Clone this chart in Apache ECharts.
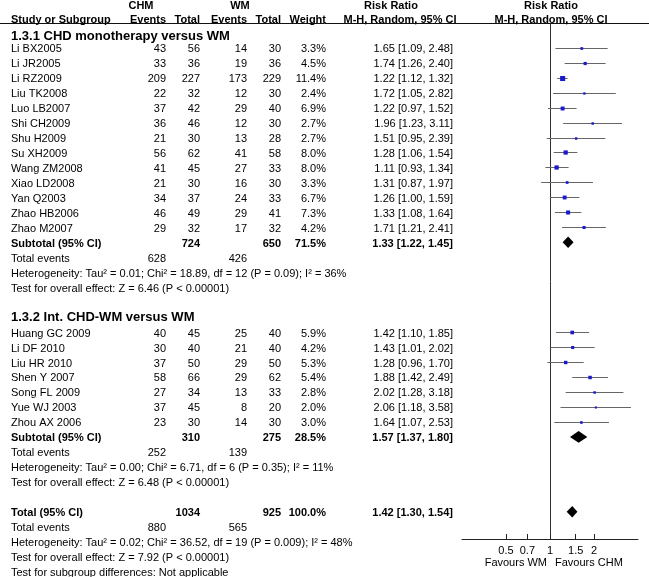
<!DOCTYPE html>
<html><head><meta charset="utf-8">
<script src="https://cdn.jsdelivr.net/npm/echarts@6/dist/echarts.min.js"></script>
<style>html,body{margin:0;padding:0;background:#fff}#c{width:649px;height:577px}</style>
</head><body><div id="c"></div>
<script>
// ---------- DATA ----------
const g1Title = '1.3.1 CHD monotherapy versus WM';
const g1Studies = ['Li BX2005','Li JR2005','Li RZ2009','Liu TK2008','Luo LB2007','Shi CH2009','Shu H2009','Su XH2009','Wang ZM2008','Xiao LD2008','Yan Q2003','Zhao HB2006','Zhao M2007'];
const g1ChmEvents = [43,33,209,22,37,36,21,56,41,21,34,46,29];
const g1ChmTotal  = [56,36,227,32,42,46,30,62,45,30,37,49,32];
const g1WmEvents  = [14,19,173,12,29,12,13,41,27,16,24,29,17];
const g1WmTotal   = [30,36,229,30,40,30,28,58,33,30,33,41,32];
const g1Weight    = [3.3,4.5,11.4,2.4,6.9,2.7,2.7,8.0,8.0,3.3,6.7,7.3,4.2];
const g1RR        = [1.65,1.74,1.22,1.72,1.22,1.96,1.51,1.28,1.11,1.31,1.26,1.33,1.71];
const g1Lo        = [1.09,1.26,1.12,1.05,0.97,1.23,0.95,1.06,0.93,0.87,1.00,1.08,1.21];
const g1Hi        = [2.48,2.40,1.32,2.82,1.52,3.11,2.39,1.54,1.34,1.97,1.59,1.64,2.41];
const g1Sub = {chmTotal:724, wmTotal:650, weight:71.5, rr:1.33, lo:1.22, hi:1.45, chmEvents:628, wmEvents:426};
const g1Het = 'Heterogeneity: Tau² = 0.01; Chi² = 18.89, df = 12 (P = 0.09); I² = 36%';
const g1Test = 'Test for overall effect: Z = 6.46 (P < 0.00001)';

const g2Title = '1.3.2 Int. CHD-WM versus WM';
const g2Studies = ['Huang GC 2009','Li DF 2010','Liu HR 2010','Shen Y 2007','Song FL 2009','Yue WJ 2003','Zhou AX 2006'];
const g2ChmEvents = [40,30,37,58,27,37,23];
const g2ChmTotal  = [45,40,50,66,34,45,30];
const g2WmEvents  = [25,21,29,29,13,8,14];
const g2WmTotal   = [40,40,50,62,33,20,30];
const g2Weight    = [5.9,4.2,5.3,5.4,2.8,2.0,3.0];
const g2RR        = [1.42,1.43,1.28,1.88,2.02,2.06,1.64];
const g2Lo        = [1.10,1.01,0.96,1.42,1.28,1.18,1.07];
const g2Hi        = [1.85,2.02,1.70,2.49,3.18,3.58,2.53];
const g2Sub = {chmTotal:310, wmTotal:275, weight:28.5, rr:1.57, lo:1.37, hi:1.80, chmEvents:252, wmEvents:139};
const g2Het = 'Heterogeneity: Tau² = 0.00; Chi² = 6.71, df = 6 (P = 0.35); I² = 11%';
const g2Test = 'Test for overall effect: Z = 6.48 (P < 0.00001)';

const totAll = {chmTotal:1034, wmTotal:925, weight:100.0, rr:1.42, lo:1.30, hi:1.54, chmEvents:880, wmEvents:565};
const totHet = 'Heterogeneity: Tau² = 0.02; Chi² = 36.52, df = 19 (P = 0.009); I² = 48%';
const totTest = 'Test for overall effect: Z = 7.92 (P < 0.00001)';
const totSubgroup = 'Test for subgroup differences: Not applicable';

const tickLabels = [0.5, 0.7, 1, 1.5, 2];
const axisMin = 0.25, axisMax = 4;

// ---------- LAYOUT ----------
const W = 649, H = 577;
const ROW0 = 47.7, ROWH = 14.97;
const FONT = '"Liberation Sans", Arial, Helvetica, sans-serif';
const col = {name:11, chmE:166, chmT:200, wmE:247, wmT:281, wt:326, rr:453};
const fx = v => v.toFixed(2);
const ci = (r,l,h) => fx(r) + ' [' + fx(l) + ', ' + fx(h) + ']';

const cells = [];
function cell(x, row, t, a, b, s) { cells.push({x, row, t: String(t), a: a || 'right', b: !!b, s: s || 11}); }

// headers
cell(141, -2.86, 'CHM', 'center', true);
cell(240, -2.86, 'WM', 'center', true);
cell(391, -2.86, 'Risk Ratio', 'center', true);
cell(551, -2.86, 'Risk Ratio', 'center', true);
cell(col.name, -1.97, 'Study or Subgroup', 'left', true);
cell(col.chmE, -1.97, 'Events', 'right', true);
cell(col.chmT, -1.97, 'Total', 'right', true);
cell(col.wmE, -1.97, 'Events', 'right', true);
cell(col.wmT, -1.97, 'Total', 'right', true);
cell(col.wt, -1.97, 'Weight', 'right', true);
cell(400, -1.97, 'M-H, Random, 95% CI', 'center', true);
cell(551, -1.97, 'M-H, Random, 95% CI', 'center', true);

const forestData = [];
const diamondData = [];

function addGroup(startRow, titleRow, title, studies, ce, ct, we, wt, w, rr, lo, hi, sub, het, test) {
  cell(col.name, titleRow, title, 'left', true, 13);
  studies.forEach((s, i) => {
    const r = startRow + i;
    cell(col.name, r, s, 'left');
    cell(col.chmE, r, ce[i]); cell(col.chmT, r, ct[i]);
    cell(col.wmE, r, we[i]); cell(col.wmT, r, wt[i]);
    cell(col.wt, r, w[i].toFixed(1) + '%');
    cell(col.rr, r, ci(rr[i], lo[i], hi[i]));
    forestData.push([Math.log10(rr[i]), r, Math.log10(lo[i]), Math.log10(hi[i]), w[i]]);
  });
  let r = startRow + studies.length;
  cell(col.name, r, 'Subtotal (95% CI)', 'left', true);
  cell(col.chmT, r, sub.chmTotal, 'right', true);
  cell(col.wmT, r, sub.wmTotal, 'right', true);
  cell(col.wt, r, sub.weight.toFixed(1) + '%', 'right', true);
  cell(col.rr, r, ci(sub.rr, sub.lo, sub.hi), 'right', true);
  diamondData.push([Math.log10(sub.rr), r, Math.log10(sub.lo), Math.log10(sub.hi)]);
  cell(col.name, r + 1, 'Total events', 'left');
  cell(col.chmE, r + 1, sub.chmEvents); cell(col.wmE, r + 1, sub.wmEvents);
  cell(col.name, r + 2, het, 'left');
  cell(col.name, r + 3, test, 'left');
}
addGroup(0, -0.85, g1Title, g1Studies, g1ChmEvents, g1ChmTotal, g1WmEvents, g1WmTotal, g1Weight, g1RR, g1Lo, g1Hi, g1Sub, g1Het, g1Test);
addGroup(19, 17.9, g2Title, g2Studies, g2ChmEvents, g2ChmTotal, g2WmEvents, g2WmTotal, g2Weight, g2RR, g2Lo, g2Hi, g2Sub, g2Het, g2Test);

// overall
const tr = 31;
cell(col.name, tr, 'Total (95% CI)', 'left', true);
cell(col.chmT, tr, totAll.chmTotal, 'right', true);
cell(col.wmT, tr, totAll.wmTotal, 'right', true);
cell(col.wt, tr, totAll.weight.toFixed(1) + '%', 'right', true);
cell(col.rr, tr, ci(totAll.rr, totAll.lo, totAll.hi), 'right', true);
diamondData.push([Math.log10(totAll.rr), tr, Math.log10(totAll.lo), Math.log10(totAll.hi)]);
cell(col.name, tr + 1, 'Total events', 'left');
cell(col.chmE, tr + 1, totAll.chmEvents); cell(col.wmE, tr + 1, totAll.wmEvents);
cell(col.name, tr + 2, totHet, 'left');
cell(col.name, tr + 3, totTest, 'left');
cell(col.name, tr + 4, totSubgroup, 'left');

// grids
const FTOP = 24, FBOT = 539;
const tYmin = -ROW0 / ROWH, tYmax = (H - ROW0) / ROWH;
const fYmin = (FTOP - ROW0) / ROWH, fYmax = (FBOT - ROW0) / ROWH;

const chart = echarts.init(document.getElementById('c'), null, {renderer: 'canvas'});
chart.setOption({
  animation: false,
  backgroundColor: '#fff',
  textStyle: {fontFamily: FONT},
  grid: [
    {left: 0, right: 0, top: 0, bottom: 0, outerBoundsMode: 'none'},
    {left: 462, right: W - 638, top: FTOP, bottom: H - FBOT, outerBoundsMode: 'none'}
  ],
  xAxis: [
    {gridIndex: 0, type: 'value', min: 0, max: W, show: false},
    {gridIndex: 1, type: 'value', min: Math.log10(axisMin), max: Math.log10(axisMax),
     axisLine: {show: true, onZero: false, lineStyle: {color: '#222', width: 1}},
     axisTick: {show: true, inside: true, length: 5, customValues: tickLabels.map(Math.log10), lineStyle: {color: '#222'}},
     axisLabel: {show: true, customValues: tickLabels.map(Math.log10), margin: 6, fontSize: 11, color: '#000', fontFamily: FONT,
       formatter: v => String(+Math.pow(10, v).toPrecision(2))},
     splitLine: {show: false}}
  ],
  yAxis: [
    {gridIndex: 0, type: 'value', min: tYmin, max: tYmax, inverse: true, show: false},
    {gridIndex: 1, type: 'value', min: fYmin, max: fYmax, inverse: true,
     axisLine: {show: true, onZero: true, lineStyle: {color: '#333', width: 1}},
     axisTick: {show: false}, axisLabel: {show: false}, splitLine: {show: false}}
  ],
  graphic: [
    {type: 'line', shape: {x1: 0, y1: 23.5, x2: W, y2: 23.5}, style: {stroke: '#111', lineWidth: 1}, silent: true},
    {type: 'text', x: 547, y: 563, style: {text: 'Favours WM', font: '11px ' + FONT, fill: '#000', align: 'right', verticalAlign: 'middle', textAlign: 'right', textVerticalAlign: 'middle'}},
    {type: 'text', x: 555, y: 563, style: {text: 'Favours CHM', font: '11px ' + FONT, fill: '#000', align: 'left', verticalAlign: 'middle', textAlign: 'left', textVerticalAlign: 'middle'}}
  ],
  series: [
    {
      type: 'custom', xAxisIndex: 0, yAxisIndex: 0, clip: false, silent: true,
      data: cells.map((c, i) => [c.x, c.row, i]),
      renderItem: (params, api) => {
        const c = cells[api.value(2)];
        const p = api.coord([api.value(0), api.value(1)]);
        return {type: 'text', x: p[0], y: p[1] + 1.4,
          style: {text: c.t, fill: '#000', font: (c.b ? 'bold ' : '') + c.s + 'px ' + FONT,
            align: c.a, textAlign: c.a, verticalAlign: 'middle', textVerticalAlign: 'middle'}};
      }
    },
    {
      type: 'custom', xAxisIndex: 1, yAxisIndex: 1, clip: false, silent: true,
      data: forestData,
      renderItem: (params, api) => {
        const pe = api.coord([api.value(0), api.value(1)]);
        const pl = api.coord([api.value(2), api.value(1)]);
        const ph = api.coord([api.value(3), api.value(1)]);
        const s = 1.5 * Math.sqrt(api.value(4));
        const y = Math.round(pe[1]) + 0.5;
        return {type: 'group', children: [
          {type: 'line', shape: {x1: pl[0], y1: y, x2: ph[0], y2: y}, style: {stroke: '#666', lineWidth: 1}},
          {type: 'rect', shape: {x: pe[0] - s / 2, y: y - s / 2, width: s, height: s}, style: {fill: '#1a1acc'}}
        ]};
      }
    },
    {
      type: 'custom', xAxisIndex: 1, yAxisIndex: 1, clip: false, silent: true,
      data: diamondData,
      renderItem: (params, api) => {
        const pe = api.coord([api.value(0), api.value(1)]);
        const pl = api.coord([api.value(2), api.value(1)]);
        const ph = api.coord([api.value(3), api.value(1)]);
        const h = 5.8;
        return {type: 'polygon', shape: {points: [[pl[0], pe[1]], [pe[0], pe[1] - h], [ph[0], pe[1]], [pe[0], pe[1] + h]]},
          style: {fill: '#000'}};
      }
    }
  ]
});
</script>
</body></html>
